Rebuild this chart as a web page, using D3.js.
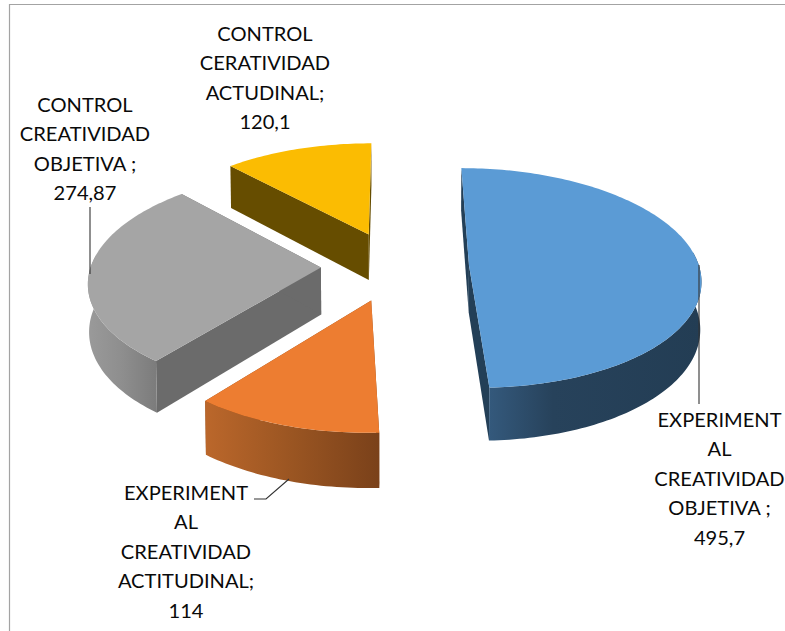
<!DOCTYPE html>
<html><head><meta charset="utf-8">
<script src="https://d3js.org/d3.v7.min.js"></script>
<style>html,body{margin:0;padding:0;background:#fff;overflow:hidden}svg{display:block}</style>
</head><body>
<svg id="c" width="785" height="631"></svg>
<script>
// ---- data ----
const categories = ["EXPERIMENTAL CREATIVIDAD OBJETIVA", "EXPERIMENTAL CREATIVIDAD ACTITUDINAL", "CONTROL CREATIVIDAD OBJETIVA", "CONTROL CERATIVIDAD ACTUDINAL"];
const values = [495.7, 114, 274.87, 120.1];
const labelLines = [
  ["EXPERIMENT","AL","CREATIVIDAD","OBJETIVA ;","495,7"],
  ["EXPERIMENT","AL","CREATIVIDAD","ACTITUDINAL;","114"],
  ["CONTROL","CREATIVIDAD","OBJETIVA ;","274,87"],
  ["CONTROL","CERATIVIDAD","ACTUDINAL;","120,1"]
];
// ---- styles / layout ----
const topColors  = ["#5B9BD5","#ED7D31","#A5A5A5","#FBBC02"];
const wallColors = ["#233F57","#8A4A1C","#6B6B6B","#664D00"];
const rimStops   = [["#34597C","#27425B","#233D54"],["#BB672B","#9A5522","#7A411A"],["#9A9A9A","#8E8E8E","#7C7C7C"],["#664D00","#664D00","#664D00"]];
const labelPos = [[719.5,420],[186,493],[85,105],[265,34]];
const leaders = [
  [[699,265],[699,404]],
  [[254,499],[266,499],[289,479]],
  [[90,207],[90,274]]
];
const explode = 0.322, persp = 0.115, depth = 47, depthShrink = 0.004, rimMargin = 0.12;
const lineGap = 29.4, fontSize = 20.1;

const svg = d3.select("#c");
const x = d3.scaleLinear().domain([-1,1]).range([395-230,395+230]);
const y = d3.scaleLinear().domain([-1,1]).range([266-108.5,266+108.5]);

// frame
svg.append("path").attr("d","M9.5,640V4.5H790").attr("fill","none").attr("stroke","#A3A3A3").attr("stroke-width",1.2);

// perspective projection of plane point (u,v) at level z (0 top, 1 bottom)
function proj(u,v,z){
  const w = 1 - persp*v;
  const sx = x(u/w), sy = y(v/w);
  const x0 = x(0);
  return [x0 + (sx-x0)*(1 - z*depthShrink), sy + z*depth/w];
}
const pieGen = d3.pie().sort(null).value(d=>d);
const arcs = pieGen(values);
const line = d3.line();
const defs = svg.append("defs");

function rimPts(a0,a1,o,z){
  const n = Math.max(2,Math.ceil((a1-a0)/0.02));
  return d3.range(n+1).map(i=>{
    const t = a0+(a1-a0)*i/n;
    return proj(o[0]+Math.sin(t), o[1]-Math.cos(t), z);
  });
}

arcs.forEach((d,i)=>{
  const mid = (d.startAngle+d.endAngle)/2;
  const o = [explode*Math.sin(mid), -explode*Math.cos(mid)];
  const g = svg.append("g").attr("class","slice").datum(d);
  // radial walls
  [d.startAngle,d.endAngle].forEach(t=>{
    const p = [proj(o[0],o[1],0), proj(o[0]+Math.sin(t),o[1]-Math.cos(t),0), proj(o[0]+Math.sin(t),o[1]-Math.cos(t),1), proj(o[0],o[1],1)];
    g.append("path").attr("d",line(p)+"Z").attr("fill",wallColors[i]);
  });
  // front part of the rim (slightly past the quarter points, where the silhouette really turns)
  const a0 = Math.max(d.startAngle,Math.PI/2-rimMargin), a1 = Math.min(d.endAngle,Math.PI*1.5+rimMargin);
  if(a1>a0){
    const upper = rimPts(a0,a1,o,0), lower = rimPts(a0,a1,o,1);
    const xs = upper.map(p=>p[0]);
    const id = "rim"+i;
    const lg = defs.append("linearGradient").attr("id",id).attr("gradientUnits","userSpaceOnUse")
      .attr("x1",d3.min(xs)).attr("x2",d3.max(xs)).attr("y1",0).attr("y2",0);
    rimStops[i].forEach((c,k)=>lg.append("stop").attr("offset",i===0?[0,0.3,1][k]:k/2).attr("stop-color",c));
    g.append("path").attr("d",line(upper.concat(lower.reverse()))+"Z").attr("fill",`url(#${id})`);
  }
  // top face
  const top = [proj(o[0],o[1],0)].concat(rimPts(d.startAngle,d.endAngle,o,0));
  g.append("path").attr("d",line(top)+"Z").attr("fill",topColors[i]);
});

// leader lines
svg.selectAll("path.leader").data(leaders).join("path").attr("class","leader")
  .attr("d",d=>line(d)).attr("fill","none").attr("stroke","#333").attr("stroke-width",1.1);

// labels
labelLines.forEach((lines,i)=>{
  const t = svg.append("text").attr("text-anchor","middle")
    .attr("font-family","Lato, 'Open Sans', sans-serif").attr("font-size",fontSize).attr("fill","#0a0a0a");
  lines.forEach((s,k)=>t.append("tspan").attr("x",labelPos[i][0]).attr("y",labelPos[i][1]+k*lineGap).attr("dy","0.35em").text(s));
});
</script>
</body></html>
